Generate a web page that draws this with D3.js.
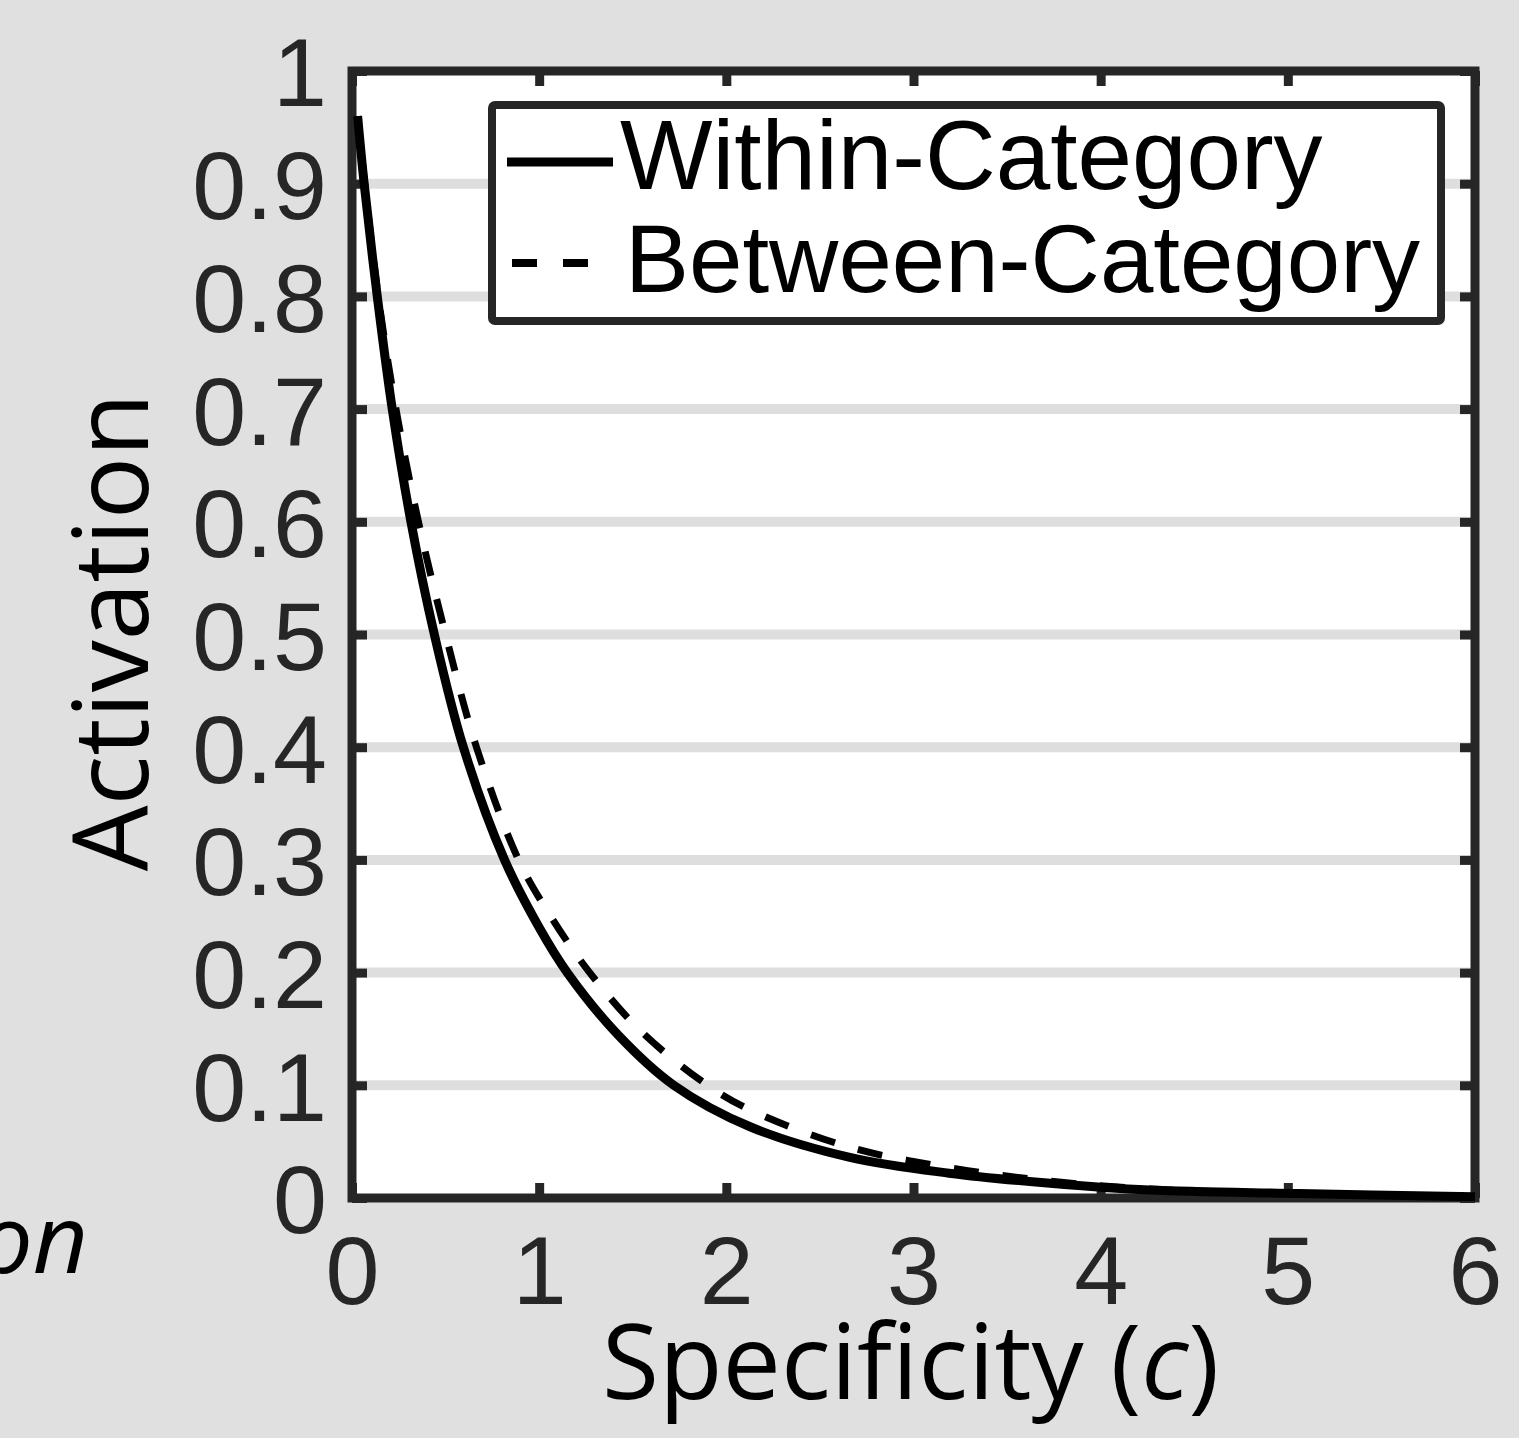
<!DOCTYPE html>
<html>
<head>
<meta charset="utf-8">
<script src="https://cdn.jsdelivr.net/npm/d3@7"></script>
<style>
  body { margin: 0; background: #e0e0e0; }
  svg { display: block; }
</style>
</head>
<body>
<svg id="chart" width="1519" height="1438"></svg>
<script>
// values
const specWithin = [0.03, 0.065, 0.135, 0.215, 0.315, 0.44, 0.595, 0.815, 1.0, 1.15, 1.42, 1.72, 2.13, 2.66, 3.19, 3.73, 4.26, 5.06, 6.0];
const within     = [0.96, 0.90, 0.80, 0.70, 0.60, 0.50, 0.40, 0.30, 0.24, 0.20, 0.145, 0.10, 0.063, 0.036, 0.022, 0.013, 0.007, 0.004, 0.001];
const specBetween = [0.03, 0.068, 0.14, 0.235, 0.355, 0.50, 0.665, 0.89, 1.05, 1.27, 1.55, 1.90, 2.13, 2.66, 3.19, 3.73, 4.26, 5.06, 6.0];
const between     = [0.96, 0.90, 0.80, 0.70, 0.60, 0.50, 0.40, 0.30, 0.253, 0.20, 0.147, 0.10, 0.078, 0.045, 0.027, 0.015, 0.008, 0.004, 0.001];
const xTicks = [0, 1, 2, 3, 4, 5, 6];
const yTicks = [0, 0.1, 0.2, 0.3, 0.4, 0.5, 0.6, 0.7, 0.8, 0.9, 1];
const seriesNames = ["Within-Category", "Between-Category"];

(function drawChart() {
  const svg = d3.select("#chart");
  const axisColor = "#262626";

  // plot box
  const pLeft = 352, pRight = 1475, pTop = 71, pBottom = 1198;

  const x = d3.scaleLinear().domain([0, 6]).range([pLeft, pRight]);
  const y = d3.scaleLinear().domain([0, 1]).range([pBottom, pTop]);

  svg.append("rect").attr("width", 1519).attr("height", 1438).attr("fill", "#e0e0e0");
  svg.append("rect")
    .attr("x", pLeft).attr("y", pTop)
    .attr("width", pRight - pLeft).attr("height", pBottom - pTop)
    .attr("fill", "#fff");

  // horizontal grid
  svg.append("g").selectAll("line")
    .data(yTicks.filter(d => d > 0 && d < 1))
    .join("line")
    .attr("x1", pLeft).attr("x2", pRight)
    .attr("y1", d => y(d)).attr("y2", d => y(d))
    .attr("stroke", "#dedede").attr("stroke-width", 10);

  // axes
  function styleAxis(g) {
    g.select(".domain").remove();
    g.selectAll(".tick line").attr("stroke", axisColor).attr("stroke-width", 9);
    g.selectAll(".tick text")
      .attr("fill", axisColor)
      .attr("font-family", "'Liberation Sans', Arial, sans-serif")
      .attr("font-size", 97);
  }

  svg.append("g")
    .attr("transform", `translate(${pLeft},0)`)
    .call(d3.axisLeft(y).tickValues(yTicks).tickSize(-15).tickSizeOuter(0).tickPadding(25)
      .tickFormat(d3.format("~g")))
    .call(styleAxis)
    .call(g => g.selectAll(".tick text").attr("dy", "0.36em"));

  svg.append("g")
    .attr("transform", `translate(0,${pBottom})`)
    .call(d3.axisBottom(x).tickValues(xTicks).tickSize(-15).tickSizeOuter(0).tickPadding(37)
      .tickFormat(d3.format("d")))
    .call(styleAxis);

  svg.append("g")
    .attr("transform", `translate(${pRight},0)`)
    .call(d3.axisRight(y).tickValues(yTicks).tickSize(-15).tickSizeOuter(0).tickFormat(""))
    .call(styleAxis);

  svg.append("g")
    .attr("transform", `translate(0,${pTop})`)
    .call(d3.axisTop(x).tickValues(xTicks).tickSize(-15).tickSizeOuter(0).tickFormat(""))
    .call(styleAxis);

  svg.append("rect")
    .attr("x", pLeft).attr("y", pTop)
    .attr("width", pRight - pLeft).attr("height", pBottom - pTop)
    .attr("fill", "none").attr("stroke", axisColor).attr("stroke-width", 9);

  // curves
  const line = d3.line()
    .x(d => x(d[0]))
    .y(d => y(d[1]))
    .curve(d3.curveCatmullRom.alpha(0.5));

  svg.append("path")
    .datum(specBetween.map((c, i) => [c, between[i]]))
    .attr("d", line)
    .attr("fill", "none").attr("stroke", "#000")
    .attr("stroke-width", 7).attr("stroke-dasharray", "25,24");

  svg.append("path")
    .datum(specWithin.map((c, i) => [c, within[i]]))
    .attr("d", line)
    .attr("fill", "none").attr("stroke", "#000")
    .attr("stroke-width", 9);

  // legend
  const lg = svg.append("g");
  lg.append("rect")
    .attr("x", 492).attr("y", 105).attr("width", 949).attr("height", 216)
    .attr("rx", 3)
    .attr("fill", "#fff").attr("stroke", axisColor).attr("stroke-width", 8);
  lg.append("line")
    .attr("x1", 507).attr("x2", 613).attr("y1", 162).attr("y2", 162)
    .attr("stroke", "#000").attr("stroke-width", 9);
  lg.append("line")
    .attr("x1", 512).attr("x2", 614).attr("y1", 263).attr("y2", 263)
    .attr("stroke", "#000").attr("stroke-width", 8).attr("stroke-dasharray", "25,26");
  lg.selectAll("text")
    .data(seriesNames)
    .join("text")
    .attr("x", (d, i) => i === 0 ? 620 : 625)
    .attr("y", (d, i) => i === 0 ? 189 : 292)
    .attr("font-family", "'Liberation Sans', Arial, sans-serif")
    .attr("font-size", (d, i) => i === 0 ? 98 : 96)
    .attr("fill", "#000")
    .text(d => d);

  // axis titles
  const xTitle = svg.append("text")
    .attr("x", (pLeft + pRight) / 2 - 3).attr("y", 1399)
    .attr("text-anchor", "middle")
    .attr("font-family", "'Open Sans', sans-serif")
    .attr("font-size", 104)
    .attr("fill", "#000");
  xTitle.append("tspan").text("Specificity (");
  xTitle.append("tspan").attr("font-style", "italic").text("c");
  xTitle.append("tspan").text(")");

  svg.append("text")
    .attr("transform", "translate(148,632) rotate(-90)")
    .attr("text-anchor", "middle")
    .attr("font-family", "'Open Sans', sans-serif")
    .attr("font-size", 104)
    .attr("fill", "#000")
    .text("Activation");

  // clipped fragment of a neighbouring panel's label
  svg.append("text")
    .attr("x", 88).attr("y", 1273)
    .attr("text-anchor", "end")
    .attr("font-family", "'Open Sans', sans-serif")
    .attr("font-style", "italic")
    .attr("font-size", 96)
    .attr("fill", "#000")
    .text("on");
})();
</script>
</body>
</html>
